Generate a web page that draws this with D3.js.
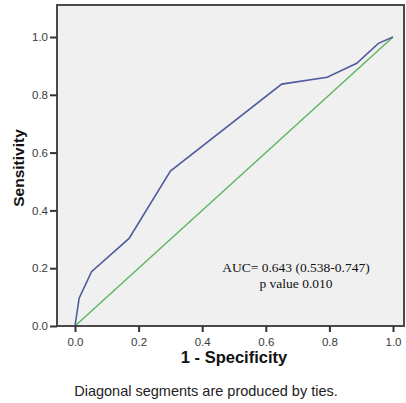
<!DOCTYPE html>
<html>
<head>
<meta charset="utf-8">
<script src="https://cdn.jsdelivr.net/npm/d3@7"></script>
<style>
  html, body { margin: 0; padding: 0; background: #fff; }
  svg { display: block; }
</style>
</head>
<body>
<div id="chart"></div>
<script>
// ROC curve points (1 - specificity, sensitivity)
const rocX = [0, 0.013, 0.052, 0.17, 0.30, 0.65, 0.793, 0.886, 0.954, 1.0];
const rocY = [0, 0.096, 0.188, 0.303, 0.536, 0.837, 0.861, 0.909, 0.978, 1.0];
const refX = [0, 1];
const refY = [0, 1];
const tickValues = [0, 0.2, 0.4, 0.6, 0.8, 1.0];
const annotation = ['AUC= 0.643 (0.538-0.747)', 'p value 0.010'];

const W = 406, H = 403;
const frame = { left: 57, right: 404, top: 5, bottom: 326 };

const svg = d3.select('#chart').append('svg')
  .attr('width', W)
  .attr('height', H);

const x = d3.scaleLinear().domain([0, 1]).range([75, 393]);
const y = d3.scaleLinear().domain([0, 1]).range([326, 37]);

// plot background
svg.append('rect')
  .attr('x', frame.left)
  .attr('y', frame.top)
  .attr('width', frame.right - frame.left)
  .attr('height', frame.bottom - frame.top)
  .attr('fill', '#f0f0f0');

const line = d3.line().x(d => x(d[0])).y(d => y(d[1]));

svg.append('path')
  .datum(d3.zip(refX, refY))
  .attr('d', line)
  .attr('fill', 'none')
  .attr('stroke', '#5cb45c')
  .attr('stroke-width', 1.4);

svg.append('path')
  .datum(d3.zip(rocX, rocY))
  .attr('d', line)
  .attr('fill', 'none')
  .attr('stroke', '#515c9e')
  .attr('stroke-width', 1.6);

// frame
svg.append('rect')
  .attr('x', frame.left)
  .attr('y', frame.top)
  .attr('width', frame.right - frame.left)
  .attr('height', frame.bottom - frame.top)
  .attr('fill', 'none')
  .attr('stroke', '#4a4a4a')
  .attr('stroke-width', 2);

// axes
const fmt = d3.format('.1f');
const xAxis = svg.append('g')
  .attr('transform', `translate(0,${frame.bottom})`)
  .call(d3.axisBottom(x).tickValues(tickValues).tickFormat(fmt).tickSize(6).tickSizeOuter(0));
const yAxis = svg.append('g')
  .attr('transform', `translate(${frame.left},0)`)
  .call(d3.axisLeft(y).tickValues(tickValues).tickFormat(fmt).tickSize(7).tickSizeOuter(0));

[xAxis, yAxis].forEach(a => {
  a.select('.domain').remove();
  a.selectAll('line').attr('stroke', '#333').attr('stroke-width', 2);
  a.selectAll('text')
    .attr('fill', '#3a3a3a')
    .attr('font-family', 'Liberation Sans, Arial, sans-serif')
    .attr('font-size', '11.5px');
});
xAxis.selectAll('text').attr('dy', '0.95em');
yAxis.selectAll('text').attr('x', -9);

// axis titles
svg.append('text')
  .attr('x', 234)
  .attr('y', 363)
  .attr('text-anchor', 'middle')
  .attr('font-family', 'Liberation Sans, Arial, sans-serif')
  .attr('font-weight', 'bold')
  .attr('font-size', '16.5px')
  .attr('fill', '#111')
  .text('1 - Specificity');

svg.append('text')
  .attr('transform', 'translate(24,168) rotate(-90)')
  .attr('text-anchor', 'middle')
  .attr('font-family', 'Liberation Sans, Arial, sans-serif')
  .attr('font-weight', 'bold')
  .attr('font-size', '15.5px')
  .attr('fill', '#111')
  .text('Sensitivity');

svg.append('text')
  .attr('x', 206)
  .attr('y', 396)
  .attr('text-anchor', 'middle')
  .attr('font-family', 'Liberation Sans, Arial, sans-serif')
  .attr('font-size', '14.5px')
  .attr('fill', '#222')
  .text('Diagonal segments are produced by ties.');

// AUC annotation
annotation.forEach((t, i) => {
  svg.append('text')
    .attr('x', 296)
    .attr('y', 272 + i * 15.5)
    .attr('text-anchor', 'middle')
    .attr('font-family', 'Liberation Serif, Times New Roman, serif')
    .attr('font-size', '13.5px')
    .attr('fill', '#111')
    .text(t);
});
</script>
</body>
</html>
